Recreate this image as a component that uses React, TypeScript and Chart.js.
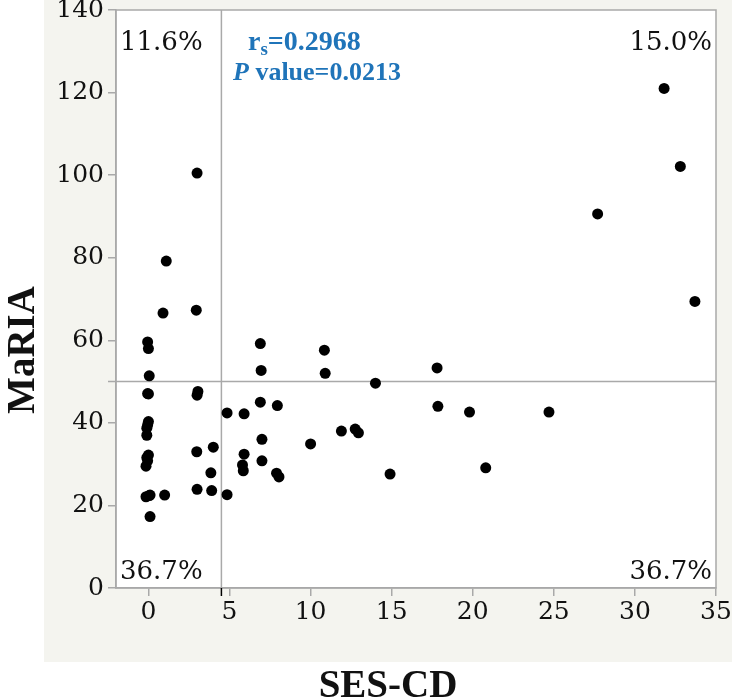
import React, { useEffect, useRef } from "react";
import { Chart, registerables } from "chart.js";

Chart.register(...registerables);

// SES-CD (x) and MaRIA (y) values
const sesCd = [
  // upper-left
  3.0, 1.1, 0.9, 2.95, -0.05, 0.0, 0.05,
  // upper-right
  31.8, 32.8, 27.7, 33.7, 6.9, 6.95, 10.85, 10.9, 17.8,
  // lower-left
  -0.05, 0.0, -0.1, -0.1, 0.0, -0.05, -0.15, -0.15, 0.1, 0.1,
  1.0, 3.05, 3.0, 2.98, 3.0, 4.0, 3.85, 3.9,
  -0.1, 0.05, -0.05, 0.0,
  // lower-right
  4.85, 4.85, 5.9, 6.9, 7.95, 7.0, 5.9, 5.8, 5.85, 7.0, 7.9,
  8.05, 10.0, 11.9, 12.75, 12.95, 14.0, 14.9, 17.85, 19.8, 20.8, 24.7,
];
const maria = [
  100.5, 79.2, 66.6, 67.3, 59.6, 58.0, 51.4,
  121.0, 102.1, 90.6, 69.4, 59.2, 52.7, 57.6, 52.0, 53.3,
  47.1, 40.3, 38.7, 37.0, 32.2, 30.8, 29.5, 22.1, 22.5, 17.3,
  22.5, 47.6, 46.7, 33.0, 23.9, 34.1, 27.9, 23.6,
  31.6, 22.4, 39.5, 47.0,
  22.6, 42.4, 42.2, 45.0, 44.2, 36.0, 32.4, 29.8, 28.4, 30.8, 27.8,
  26.9, 34.9, 38.0, 38.5, 37.6, 49.6, 27.6, 44.0, 42.6, 29.1, 42.6,
];

const xTickValues = [0, 5, 10, 15, 20, 25, 30, 35];
const yTickValues = [0, 20, 40, 60, 80, 100, 120, 140];
const xRange = [-2, 35];
const yRange = [0, 140];
const refX = 4.5;
const refY = 50;
// quadrant percentages: upper-left, upper-right, lower-left, lower-right
const quadrantLabels = ["11.6%", "15.0%", "36.7%", "36.7%"];
const rsValue = "0.2968";
const pValue = "0.0213";
const xTitle = "SES-CD";
const yTitle = "MaRIA";

const GRAY = "#a9a9a9";
const BLUE = "#1f74b9";
const BG = "#f4f4ef";

const decorPlugin = {
  id: "decor",
  beforeDraw(chart: any) {
    const { ctx, chartArea: a } = chart;
    ctx.save();
    ctx.fillStyle = "#ffffff";
    ctx.fillRect(0, 0, chart.width, chart.height);
    ctx.fillStyle = BG;
    ctx.fillRect(44, 0, chart.width - 44, 662);
    ctx.fillStyle = "#ffffff";
    ctx.fillRect(a.left, a.top, a.right - a.left, a.bottom - a.top);
    ctx.restore();
  },
  beforeDatasetsDraw(chart: any) {
    const { ctx, chartArea: a, scales } = chart;
    const px = scales.x.getPixelForValue(refX);
    const py = scales.y.getPixelForValue(refY);
    ctx.save();
    ctx.strokeStyle = GRAY;
    ctx.lineWidth = 1.5;
    ctx.strokeRect(a.left, a.top, a.right - a.left, a.bottom - a.top);
    ctx.beginPath();
    ctx.moveTo(px, a.top);
    ctx.lineTo(px, a.bottom);
    ctx.moveTo(a.left - 8, py);
    ctx.lineTo(a.right, py);
    ctx.stroke();
    ctx.strokeStyle = "#000";
    ctx.beginPath();
    ctx.moveTo(px, a.bottom);
    ctx.lineTo(px, a.bottom + 8);
    ctx.stroke();
    ctx.restore();
  },
  afterDraw(chart: any) {
    const { ctx, chartArea: a } = chart;
    ctx.save();
    ctx.fillStyle = "#111";
    ctx.font = "26px 'DejaVu Serif'";
    ctx.textBaseline = "alphabetic";
    ctx.textAlign = "left";
    ctx.fillText(quadrantLabels[0], a.left + 4, a.top + 40);
    ctx.fillText(quadrantLabels[2], a.left + 4, a.bottom - 9);
    ctx.textAlign = "right";
    ctx.fillText(quadrantLabels[1], a.right - 4, a.top + 40);
    ctx.fillText(quadrantLabels[3], a.right - 4, a.bottom - 9);

    // statistics
    ctx.fillStyle = BLUE;
    ctx.textAlign = "left";
    let x = a.left + 132;
    const y1 = a.top + 40;
    ctx.font = "bold 28px 'Liberation Serif'";
    ctx.fillText("r", x, y1);
    x += ctx.measureText("r").width;
    ctx.font = "bold 19px 'Liberation Serif'";
    ctx.fillText("s", x, y1 + 5);
    x += ctx.measureText("s").width;
    ctx.font = "bold 28px 'Liberation Serif'";
    ctx.fillText("=" + rsValue, x, y1);

    let x2 = a.left + 117;
    const y2 = a.top + 70;
    ctx.font = "italic bold 26px 'Liberation Serif'";
    ctx.fillText("P", x2, y2);
    x2 += ctx.measureText("P").width;
    ctx.font = "bold 26px 'Liberation Serif'";
    ctx.fillText(" value=" + pValue, x2, y2);

    // axis titles
    ctx.fillStyle = "#111";
    ctx.font = "bold 39px 'Liberation Serif'";
    ctx.textAlign = "center";
    ctx.fillText(xTitle, (44 + chart.width) / 2, 697);
    ctx.translate(34, 350);
    ctx.rotate(-Math.PI / 2);
    ctx.fillText(yTitle, 0, 0);
    ctx.restore();
  },
};

export default function App() {
  const canvasRef = useRef<HTMLCanvasElement | null>(null);

  useEffect(() => {
    const canvas = canvasRef.current;
    if (!canvas) return;
    const points = sesCd.map((v, i) => ({ x: v, y: maria[i] }));
    const tickFont = { family: "'DejaVu Serif'", size: 25 };
    const chart = new Chart(canvas, {
      type: "scatter",
      data: {
        datasets: [
          {
            data: points,
            backgroundColor: "#000",
            borderWidth: 0,
            pointRadius: 5.5,
            pointHoverRadius: 5.5,
          },
        ],
      },
      options: {
        animation: false,
        responsive: true,
        maintainAspectRatio: false,
        layout: { padding: { top: 10, right: 16, left: 0, bottom: 0 } },
        plugins: {
          legend: { display: false },
          tooltip: { enabled: false },
        },
        scales: {
          x: {
            type: "linear",
            min: xRange[0],
            max: xRange[1],
            afterBuildTicks: (s: any) => {
              s.ticks = xTickValues.map((v) => ({ value: v }));
            },
            afterFit: (s: any) => {
              s.height = 111;
              s.paddingLeft = 0;
              s.paddingRight = 0;
            },
            grid: {
              drawOnChartArea: false,
              drawTicks: true,
              tickLength: 8,
              color: GRAY,
              lineWidth: 1.5,
            },
            border: { display: true, color: GRAY, width: 1.5 },
            ticks: {
              font: tickFont,
              color: "#111",
              padding: 1,
              maxRotation: 0,
              autoSkip: false,
            },
          },
          y: {
            type: "linear",
            min: yRange[0],
            max: yRange[1],
            afterBuildTicks: (s: any) => {
              s.ticks = yTickValues.map((v) => ({ value: v }));
            },
            afterFit: (s: any) => {
              s.width = 116;
              s.paddingTop = 0;
              s.paddingBottom = 0;
            },
            grid: {
              drawOnChartArea: false,
              drawTicks: true,
              tickLength: 8,
              color: GRAY,
              lineWidth: 1.5,
            },
            border: { display: true, color: GRAY, width: 1.5 },
            ticks: {
              font: tickFont,
              color: "#111",
              padding: 4,
              autoSkip: false,
            },
          },
        },
      },
      plugins: [decorPlugin],
    });
    return () => chart.destroy();
  }, []);

  return (
    <div style={{ position: "absolute", left: 0, top: 0, width: 732, height: 699 }}>
      <canvas ref={canvasRef} />
    </div>
  );
}
